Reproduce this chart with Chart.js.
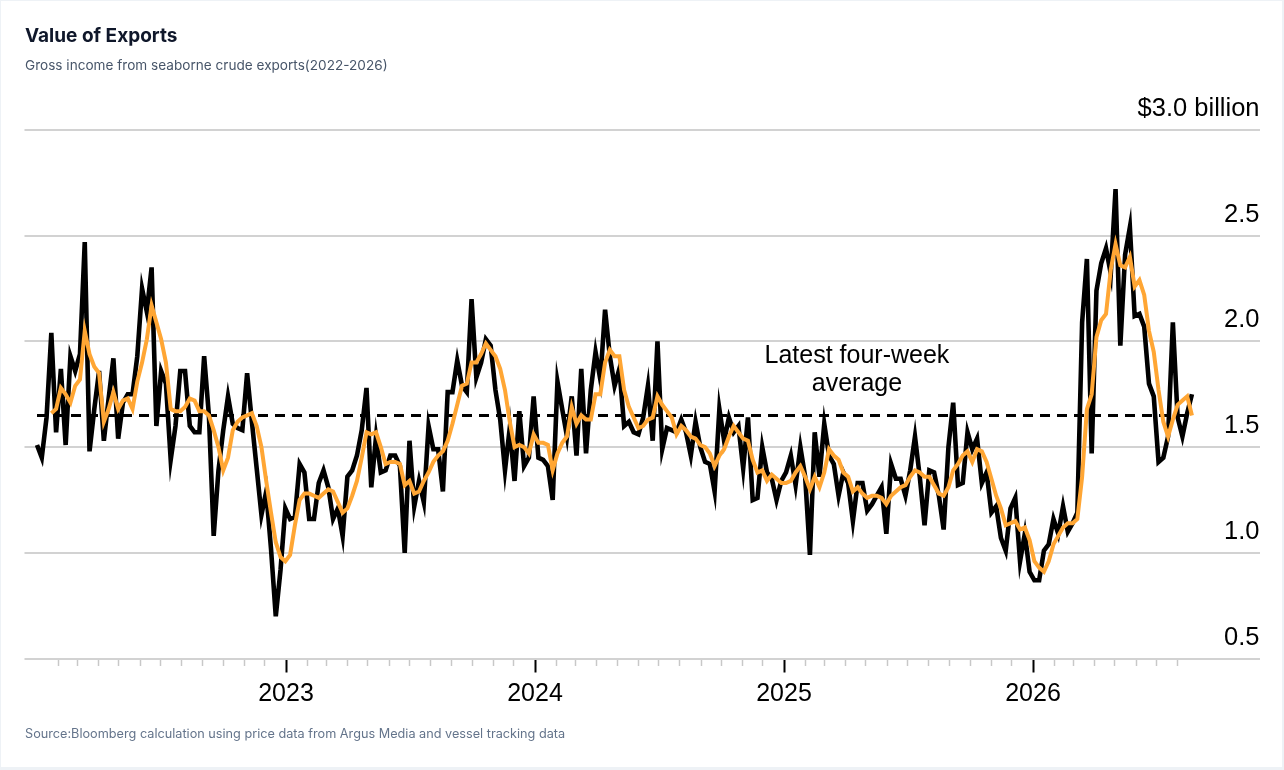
<!DOCTYPE html>
<html>
<head>
<meta charset="utf-8">
<title>Value of Exports</title>
<script src="https://cdn.jsdelivr.net/npm/chart.js@4.4.1/dist/chart.umd.min.js"></script>
<style>
    html, body { margin: 0; padding: 0; background: #eef2f6; width: 1284px; height: 770px; overflow: hidden; }
    #card { position: absolute; left: 1px; top: 1px; width: 1281px; height: 766px; background: #fff; }
    #grafica { position: absolute; left: 0; top: 0; }
    .texto { position: absolute; left: 25px; font-family: Inter, "Noto Sans", sans-serif; white-space: nowrap; }
    .titulo { top: 25px; font-size: 19px; font-weight: 700; line-height: 22px; color: #0f172a; }
    .subtitulo { top: 57px; font-size: 13.6px; line-height: 16px; color: #475569; }
    .fuente { top: 726px; font-size: 12.7px; line-height: 16px; color: #64748b; }
</style>
</head>
<body>
<div id="card"></div>
<canvas id="grafica" width="1284" height="770"></canvas>
<div class="texto titulo">Value of Exports</div>
<div class="texto subtitulo">Gross income from seaborne crude exports(2022-2026)</div>
<div class="texto fuente">Source:Bloomberg calculation using price data from Argus Media and vessel tracking data</div>

<script>
// ============================
// DATA
// ============================

const firstWeek = "2022-01-01";

// weekly gross income, $ billion
const weeklyValues = [
    1.51, 1.45, 1.64, 2.04, 1.57, 1.87, 1.51, 1.93, 1.86, 1.94,
    2.47, 1.48, 1.68, 1.86, 1.53, 1.73, 1.92, 1.54, 1.71, 1.75,
    1.75, 1.93, 2.25, 2.14, 2.35, 1.60, 1.86, 1.80, 1.44, 1.60,
    1.86, 1.86, 1.60, 1.57, 1.57, 1.93, 1.65, 1.08, 1.39, 1.58,
    1.74, 1.61, 1.59, 1.58, 1.85, 1.62, 1.40, 1.18, 1.29, 1.02,
    0.70, 0.92, 1.21, 1.16, 1.17, 1.42, 1.38, 1.16, 1.16, 1.33,
    1.39, 1.31, 1.16, 1.21, 1.08, 1.36, 1.39, 1.46, 1.58, 1.78,
    1.31, 1.55, 1.38, 1.39, 1.46, 1.46, 1.41, 1.00, 1.53, 1.22,
    1.34, 1.24, 1.60, 1.49, 1.49, 1.29, 1.76, 1.76, 1.91, 1.79,
    1.76, 2.20, 1.83, 1.90, 2.01, 1.98, 1.77, 1.63, 1.39, 1.59,
    1.34, 1.67, 1.41, 1.45, 1.74, 1.45, 1.44, 1.41, 1.25, 1.81,
    1.68, 1.55, 1.74, 1.46, 1.87, 1.47, 1.77, 1.95, 1.82, 2.15,
    1.93, 1.79, 1.87, 1.60, 1.62, 1.57, 1.56, 1.64, 1.79, 1.53,
    2.00, 1.49, 1.59, 1.58, 1.57, 1.63, 1.57, 1.46, 1.62, 1.50,
    1.43, 1.42, 1.29, 1.68, 1.53, 1.64, 1.57, 1.60, 1.40, 1.64,
    1.25, 1.26, 1.50, 1.38, 1.35, 1.25, 1.34, 1.38, 1.46, 1.32,
    1.50, 1.36, 0.99, 1.57, 1.36, 1.61, 1.46, 1.42, 1.27, 1.38,
    1.33, 1.15, 1.33, 1.33, 1.20, 1.23, 1.27, 1.31, 1.09, 1.42,
    1.35, 1.35, 1.27, 1.39, 1.55, 1.36, 1.13, 1.39, 1.38, 1.27,
    1.11, 1.50, 1.71, 1.32, 1.33, 1.57, 1.49, 1.54, 1.33, 1.38,
    1.19, 1.22, 1.07, 1.01, 1.21, 1.26, 0.96, 1.09, 0.91, 0.87,
    0.87, 1.01, 1.04, 1.16, 1.09, 1.22, 1.10, 1.14, 1.19, 2.09,
    2.39, 1.47, 2.24, 2.37, 2.44, 2.32, 2.72, 1.98, 2.41, 2.54,
    2.12, 2.13, 2.07, 1.80, 1.74, 1.43, 1.45, 1.55, 2.09, 1.64,
    1.55, 1.66, 1.75
];

// four-week average (starts on the 4th week)
const fourWeekAverage = [
    null, null, null, 1.66, 1.68, 1.78, 1.75, 1.71, 1.79, 1.82,
    2.05, 1.94, 1.88, 1.85, 1.62, 1.68, 1.76, 1.68, 1.72, 1.73,
    1.68, 1.81, 1.90, 2.01, 2.17, 2.09, 2.01, 1.90, 1.68, 1.67,
    1.67, 1.69, 1.73, 1.72, 1.67, 1.67, 1.65, 1.58, 1.50, 1.39,
    1.45, 1.58, 1.62, 1.64, 1.65, 1.66, 1.60, 1.50, 1.34, 1.19,
    1.05, 0.98, 0.96, 0.99, 1.13, 1.25, 1.28, 1.28, 1.27, 1.26,
    1.28, 1.30, 1.29, 1.24, 1.19, 1.21, 1.27, 1.34, 1.45, 1.57,
    1.56, 1.57, 1.50, 1.42, 1.43, 1.43, 1.42, 1.32, 1.34, 1.28,
    1.29, 1.34, 1.38, 1.43, 1.46, 1.48, 1.53, 1.61, 1.70, 1.79,
    1.80, 1.90, 1.90, 1.94, 1.99, 1.96, 1.93, 1.87, 1.77, 1.62,
    1.50, 1.51, 1.50, 1.47, 1.56, 1.52, 1.52, 1.51, 1.39, 1.47,
    1.52, 1.55, 1.69, 1.61, 1.65, 1.63, 1.63, 1.75, 1.75, 1.90,
    1.96, 1.93, 1.93, 1.77, 1.69, 1.64, 1.59, 1.60, 1.63, 1.64,
    1.74, 1.70, 1.67, 1.64, 1.56, 1.60, 1.58, 1.55, 1.54, 1.51,
    1.50, 1.47, 1.41, 1.46, 1.49, 1.55, 1.60, 1.57, 1.54, 1.53,
    1.44, 1.38, 1.39, 1.34, 1.37, 1.35, 1.33, 1.33, 1.34, 1.38,
    1.41, 1.36, 1.30, 1.36, 1.31, 1.38, 1.49, 1.46, 1.44, 1.38,
    1.36, 1.29, 1.31, 1.28, 1.26, 1.27, 1.27, 1.26, 1.23, 1.27,
    1.29, 1.31, 1.32, 1.36, 1.39, 1.38, 1.36, 1.36, 1.32, 1.28,
    1.27, 1.31, 1.39, 1.42, 1.46, 1.48, 1.43, 1.49, 1.48, 1.43,
    1.35, 1.27, 1.21, 1.13, 1.14, 1.15, 1.11, 1.12, 1.06, 0.96,
    0.93, 0.91, 0.96, 1.04, 1.08, 1.12, 1.14, 1.14, 1.16, 1.36,
    1.68, 1.75, 2.02, 2.10, 2.13, 2.34, 2.46, 2.36, 2.35, 2.40,
    2.26, 2.29, 2.22, 2.05, 1.95, 1.77, 1.62, 1.55, 1.63, 1.70,
    1.72, 1.74, 1.65
];

const latestAverage = [1.65];

const yearTicks = [2023, 2024, 2025, 2026];
const valueTicks = [0.5, 1.0, 1.5, 2.0, 2.5, 3.0];
const valueTickLabels = ["0.5", "1.0", "1.5", "2.0", "2.5", "$3.0 billion"];
const noteLines = ["Latest four-week", "average"];


// ============================
// HELPERS
// ============================

const DAY = 86400000;
const FONT = '"Liberation Sans", Arial, Helvetica, sans-serif';

// date -> decimal year, so the x axis stays linear
function aAnio(t) {
    const d = new Date(t);
    const y = d.getUTCFullYear();
    const ini = Date.UTC(y, 0, 1);
    const fin = Date.UTC(y + 1, 0, 1);
    return y + (t - ini) / (fin - ini);
}

const t0 = Date.parse(firstWeek + "T00:00:00Z");
const fechas = weeklyValues.map((_, i) => aAnio(t0 + i * 7 * DAY));

const puntosSemana = weeklyValues.map((v, i) => ({ x: fechas[i], y: v }));
const puntosMedia = fourWeekAverage.map((v, i) => ({ x: fechas[i], y: v }));
const puntosUltima = [
    { x: fechas[0], y: latestAverage[0] },
    { x: fechas[fechas.length - 1], y: latestAverage[0] }
];

// monthly ticks strictly inside the data range
const ticksMes = [];
for (let y = 2022; y <= 2026; y++) {
    for (let m = 0; m < 12; m++) {
        const v = aAnio(Date.UTC(y, m, 1));
        if (v > fechas[0] && v <= fechas[fechas.length - 1]) ticksMes.push(v);
    }
}

const esAnio = v => yearTicks.includes(v);


// ============================
// ANNOTATION
// ============================

const NOTE_X = 2025.293;
const NOTE_Y = 1.93;

const notaPlugin = {
    id: "nota",
    afterDatasetsDraw(chart) {
        const { ctx, scales: { x, y } } = chart;
        const px = x.getPixelForValue(NOTE_X);
        const py = y.getPixelForValue(NOTE_Y);
        ctx.save();
        ctx.font = "25px " + FONT;
        ctx.fillStyle = "#000";
        ctx.textAlign = "center";
        ctx.textBaseline = "middle";
        noteLines.forEach((t, i) => ctx.fillText(t, px, py + i * 28));
        ctx.restore();
    }
};


// ============================
// CHART
// ============================

new Chart(document.getElementById("grafica").getContext("2d"), {
    type: "line",
    data: {
        datasets: [
            {
                label: "Four-week average",
                data: puntosMedia,
                borderColor: "#ffa634",
                borderWidth: 4,
                pointRadius: 0,
                tension: 0,
                order: 0
            },
            {
                label: "Latest four-week average",
                data: puntosUltima,
                borderColor: "#000",
                borderWidth: 3,
                borderDash: [10, 7],
                pointRadius: 0,
                order: 1
            },
            {
                label: "Weekly value",
                data: puntosSemana,
                borderColor: "#000",
                borderWidth: 4.6,
                pointRadius: 0,
                tension: 0,
                order: 2
            }
        ]
    },
    options: {
        responsive: false,
        animation: false,
        events: [],
        layout: { padding: { left: 24.5, right: 24.5, top: 130, bottom: 54.5 } },
        plugins: {
            legend: { display: false },
            tooltip: { enabled: false }
        },
        scales: {
            x: {
                type: "linear",
                min: 2021.9498,
                max: 2026.9096,
                afterBuildTicks: axis => { axis.ticks = ticksMes.map(v => ({ value: v })); },
                ticks: {
                    autoSkip: false,
                    maxRotation: 0,
                    padding: 6.5,
                    color: "#000",
                    font: { family: FONT, size: 25 },
                    callback: v => esAnio(v) ? String(v) : ""
                },
                grid: {
                    drawOnChartArea: false,
                    drawTicks: true,
                    tickLength: 14,
                    tickColor: c => (c.tick && esAnio(c.tick.value)) ? "#000" : "#c8c8c8",
                    tickWidth: c => (c.tick && esAnio(c.tick.value)) ? 2 : 1.5,
                    tickBorderDash: c => (c.tick && esAnio(c.tick.value)) ? [] : [7, 30]
                },
                border: { display: false }
            },
            y: {
                position: "right",
                min: 0.5,
                max: 3.0,
                afterBuildTicks: axis => { axis.ticks = valueTicks.map(v => ({ value: v })); },
                ticks: {
                    mirror: true,
                    padding: 0,
                    labelOffset: -21,
                    color: "#000",
                    font: { family: FONT, size: 25.5 },
                    callback: v => valueTickLabels[valueTicks.indexOf(v)]
                },
                grid: { color: "#d2d2d2", lineWidth: 2, drawTicks: false },
                border: { display: false }
            }
        }
    },
    plugins: [notaPlugin]
});
</script>
</body>
</html>
